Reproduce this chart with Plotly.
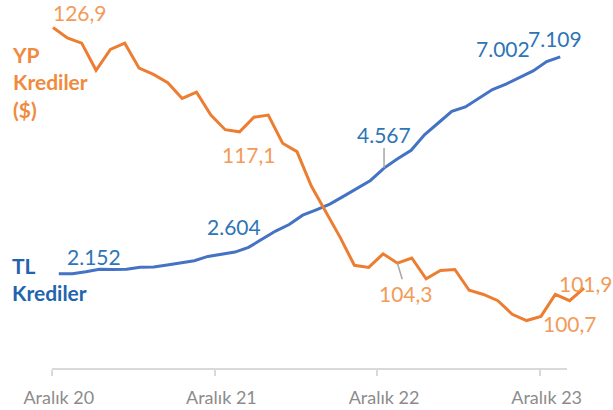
import plotly.graph_objects as go

# ---------------- data ----------------
month_abbr = ["Oca", "Şub", "Mar", "Nis", "May", "Haz", "Tem", "Ağu", "Eyl", "Eki", "Kas", "Ara"]
months = ["Ara 20"] + [f"{m} {y}" for y in (21, 22, 23) for m in month_abbr] + ["Oca 24"]

tl_krediler = [2152, 2155, 2201, 2254, 2251, 2258, 2300, 2305, 2351, 2396, 2449, 2549,
               2604, 2648, 2755, 2939, 3129, 3278, 3491, 3614, 3743, 3921, 4095, 4285,
               4567, 4782, 4972, 5332, 5597, 5865, 5964, 6156, 6362, 6484, 6637, 6788,
               7002, 7109]
yp_krediler = [126.9, 125.9, 125.4, 122.8, 124.8, 125.4, 123.0, 122.4, 121.6, 120.1, 120.7, 118.5,
               117.1, 116.9, 118.3, 118.5, 115.8, 115.0, 111.7, 109.3, 106.8, 104.1, 103.9, 105.2,
               104.3, 104.8, 102.8, 103.6, 103.7, 101.7, 101.3, 100.7, 99.4, 98.8, 99.2, 101.3,
               100.7, 101.9]

tick_idx = [0, 12, 24, 36]
tick_text = ["Aralık 20", "Aralık 21", "Aralık 22", "Aralık 23"]
label_idx = [0, 12, 24, 36, 37]

x = list(range(len(months)))

# ---------------- styles ----------------
W, H = 613, 410
FONT = "Lato"
ORANGE = "#ED7D31"
ORANGE_TXT = "#F29B58"
BLUE = "#4472C4"
BLUE_TXT = "#2E75B6"

def px_x(p):
    return p / W

def px_y(p):
    return (H - p) / H

fig = go.Figure()
fig.add_trace(go.Scatter(x=x, y=tl_krediler, mode="lines", name="TL Krediler",
                         line=dict(color=BLUE, width=3), xaxis="x", yaxis="y"))
fig.add_trace(go.Scatter(x=x, y=yp_krediler, mode="lines", name="YP Krediler ($)",
                         line=dict(color=ORANGE, width=3), xaxis="x2", yaxis="y2"))

ydom = [px_y(368), px_y(17.8)]
fig.update_layout(
    width=W, height=H,
    margin=dict(l=0, r=0, t=0, b=0, autoexpand=False),
    paper_bgcolor="white", plot_bgcolor="rgba(0,0,0,0)",
    showlegend=False,
    font=dict(family=FONT),
    xaxis=dict(domain=[px_x(52), px_x(567)], range=[-0.5, 37.5],
               tickvals=tick_idx, ticktext=tick_text, ticks="",
               tickfont=dict(size=18, color="#8C8C8C", family=FONT),
               ticklabelstandoff=12, automargin=False,
               showline=True, linecolor="#D9D9D9", linewidth=2,
               showgrid=False, zeroline=False,
               minor=dict(tick0=-0.5, dtick=12, ticks="outside", ticklen=6,
                          tickcolor="#D9D9D9", tickwidth=2, showgrid=False),
               anchor="y"),
    yaxis=dict(domain=ydom, range=[0, 8000], visible=False, anchor="x", automargin=False),
    xaxis2=dict(domain=[px_x(45), px_x(600)], range=[-0.5575, 38.116], visible=False,
                anchor="y2", automargin=False),
    yaxis2=dict(domain=ydom, range=[94.25, 127.83], visible=False, anchor="x2", automargin=False),
)

def fmt_yp(v):
    return f"{v:.1f}".replace(".", ",")

def fmt_tl(v):
    return f"{v:,}".replace(",", ".")

yp_shift = {0: (27, 15), 12: (24, -25), 36: (0, -23), 37: (2, 5)}
tl_shift = {0: (35, 17), 12: (13, 28), 36: (-44, 13), 37: (-5, 18)}

for i in label_idx:
    if i == 24:
        fig.add_annotation(x=x[i], y=yp_krediler[i], xref="x2", yref="y2",
                           text=fmt_yp(yp_krediler[i]), showarrow=True, arrowhead=0,
                           arrowwidth=1.5, arrowcolor="#A6A6A6", ax=9, ay=30, standoff=0,
                           font=dict(size=21, color=ORANGE_TXT, family=FONT))
        fig.add_annotation(x=x[i], y=tl_krediler[i], xref="x", yref="y",
                           text=fmt_tl(tl_krediler[i]), showarrow=True, arrowhead=0,
                           arrowwidth=1.5, arrowcolor="#A6A6A6", ax=0, ay=-34, standoff=0,
                           font=dict(size=21, color=BLUE_TXT, family=FONT))
    else:
        dx, dy = yp_shift[i]
        fig.add_annotation(x=x[i], y=yp_krediler[i], xref="x2", yref="y2",
                           text=fmt_yp(yp_krediler[i]), showarrow=False,
                           xshift=dx, yshift=dy,
                           font=dict(size=21, color=ORANGE_TXT, family=FONT))
        dx, dy = tl_shift[i]
        fig.add_annotation(x=x[i], y=tl_krediler[i], xref="x", yref="y",
                           text=fmt_tl(tl_krediler[i]), showarrow=False,
                           xshift=dx, yshift=dy,
                           font=dict(size=21, color=BLUE_TXT, family=FONT))

# series titles
fig.add_annotation(x=px_x(10), y=px_y(82), xref="paper", yref="paper",
                   text="<b>YP<br>Krediler<br>($)</b>", showarrow=False, align="left",
                   xanchor="left", yanchor="middle",
                   font=dict(size=21, color="#F08A3C", family=FONT))
fig.add_annotation(x=px_x(10), y=px_y(279), xref="paper", yref="paper",
                   text="<b>TL<br>Krediler</b>", showarrow=False, align="left",
                   xanchor="left", yanchor="middle",
                   font=dict(size=21, color="#1F64AE", family=FONT))

fig.write_html("out.html", config={"displayModeBar": False},
               post_script="document.body.style.margin='0';document.body.style.overflow='hidden';")
